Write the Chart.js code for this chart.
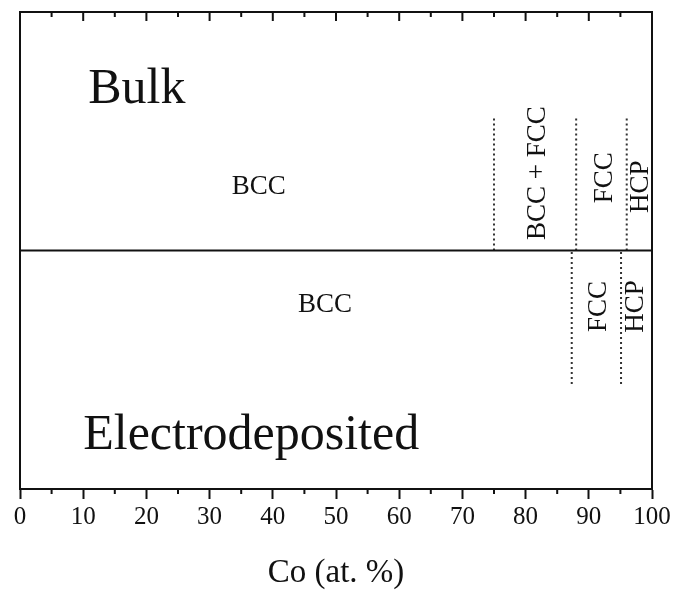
<!DOCTYPE html>
<html>
<head>
<meta charset="utf-8">
<script src="https://cdn.jsdelivr.net/npm/chart.js@4/dist/chart.umd.min.js"></script>
<style>
  html, body { margin: 0; padding: 0; background: #fff; }
  canvas { display: block; }
</style>
</head>
<body>
<canvas id="phase" width="675" height="590"></canvas>
<script>
// Co content (at. %) where the phase field changes
const bulkBoundaries = [75, 88, 96];
const depositedBoundaries = [87.3, 95.1];
// vertical extent of the boundary markers in each half (y runs 0..2, divider at 1)
const bulkSpan = [1, 1.56];
const depositedSpan = [0.44, 1];
const dividerLevel = 1;

// text placed in data coordinates
const labelTexts = ['Bulk', 'Electrodeposited', 'BCC', 'BCC', 'BCC + FCC', 'FCC', 'HCP', 'FCC', 'HCP'];
const labelX     = [10.8, 10.0, 33.5, 44.0, 83.1, 93.6, 99.4, 92.8, 98.6];
const labelY     = [1.618, 0.168, 1.238, 0.741, 1.324, 1.305, 1.267, 0.765, 0.765];
const labelSize  = [50, 50, 27, 27, 27, 27, 27, 27, 27];
const labelVertical = [false, false, false, false, true, true, true, true, true];

const serif = "'Liberation Serif', 'Times New Roman', serif";

function boundaryDataset(x, span) {
  return {
    data: [{ x: x, y: span[0] }, { x: x, y: span[1] }],
    borderColor: '#333',
    borderWidth: 2,
    borderDash: [2, 3],
    pointRadius: 0,
    fill: false
  };
}

const datasets = [
  {
    data: [{ x: 0, y: dividerLevel }, { x: 100, y: dividerLevel }],
    borderColor: '#111',
    borderWidth: 2,
    pointRadius: 0,
    fill: false
  },
  ...bulkBoundaries.map(b => boundaryDataset(b, bulkSpan)),
  ...depositedBoundaries.map(b => boundaryDataset(b, depositedSpan))
];

// frame on the remaining three sides plus the minor / top tick marks
const framePlugin = {
  id: 'frame',
  afterDraw(chart) {
    const { ctx, chartArea: a, scales: { x } } = chart;
    ctx.save();
    ctx.strokeStyle = '#111';
    ctx.lineWidth = 2;
    ctx.beginPath();
    ctx.moveTo(a.left, a.bottom);
    ctx.lineTo(a.left, a.top);
    ctx.lineTo(a.right, a.top);
    ctx.lineTo(a.right, a.bottom);
    ctx.stroke();

    ctx.lineWidth = 2;
    ctx.beginPath();
    for (let v = 5; v < 100; v += 5) {
      const px = x.getPixelForValue(v);
      const major = v % 10 === 0;
      // top ticks point into the plot
      ctx.moveTo(px, a.top);
      ctx.lineTo(px, a.top + (major ? 9 : 5));
      // bottom minor ticks (majors come from the scale grid)
      if (!major) {
        ctx.moveTo(px, a.bottom);
        ctx.lineTo(px, a.bottom + 5);
      }
    }
    ctx.stroke();
    ctx.restore();
  }
};

const labelPlugin = {
  id: 'regionLabels',
  afterDatasetsDraw(chart) {
    const { ctx, scales: { x, y } } = chart;
    ctx.save();
    ctx.fillStyle = '#111';
    ctx.textBaseline = 'alphabetic';
    labelTexts.forEach((t, i) => {
      const px = x.getPixelForValue(labelX[i]);
      const py = y.getPixelForValue(labelY[i]);
      ctx.font = labelSize[i] + 'px ' + serif;
      if (labelVertical[i]) {
        ctx.save();
        ctx.translate(px, py);
        ctx.rotate(-Math.PI / 2);
        ctx.textAlign = 'center';
        ctx.fillText(t, 0, 0);
        ctx.restore();
      } else {
        ctx.textAlign = 'left';
        ctx.fillText(t, px, py);
      }
    });
    ctx.restore();
  }
};

new Chart(document.getElementById('phase'), {
  type: 'line',
  data: { datasets },
  plugins: [framePlugin, labelPlugin],
  options: {
    responsive: false,
    devicePixelRatio: 1,
    animation: false,
    layout: { padding: { left: 20, right: 23, top: 12, bottom: 0 } },
    plugins: { legend: { display: false }, tooltip: { enabled: false } },
    scales: {
      x: {
        type: 'linear',
        min: 0,
        max: 100,
        ticks: {
          stepSize: 10,
          color: '#111',
          padding: 3,
          maxRotation: 0,
          autoSkip: false,
          font: { family: serif, size: 25 }
        },
        grid: {
          drawOnChartArea: false,
          drawTicks: true,
          tickLength: 10,
          tickColor: '#111',
          tickWidth: 2
        },
        border: { display: true, color: '#111', width: 2 },
        title: {
          display: true,
          text: 'Co (at. %)',
          color: '#111',
          font: { family: serif, size: 33, lineHeight: 1 },
          padding: { top: 22, bottom: 0 }
        }
      },
      y: {
        type: 'linear',
        min: 0,
        max: 2,
        display: false
      }
    }
  }
});
</script>
</body>
</html>
